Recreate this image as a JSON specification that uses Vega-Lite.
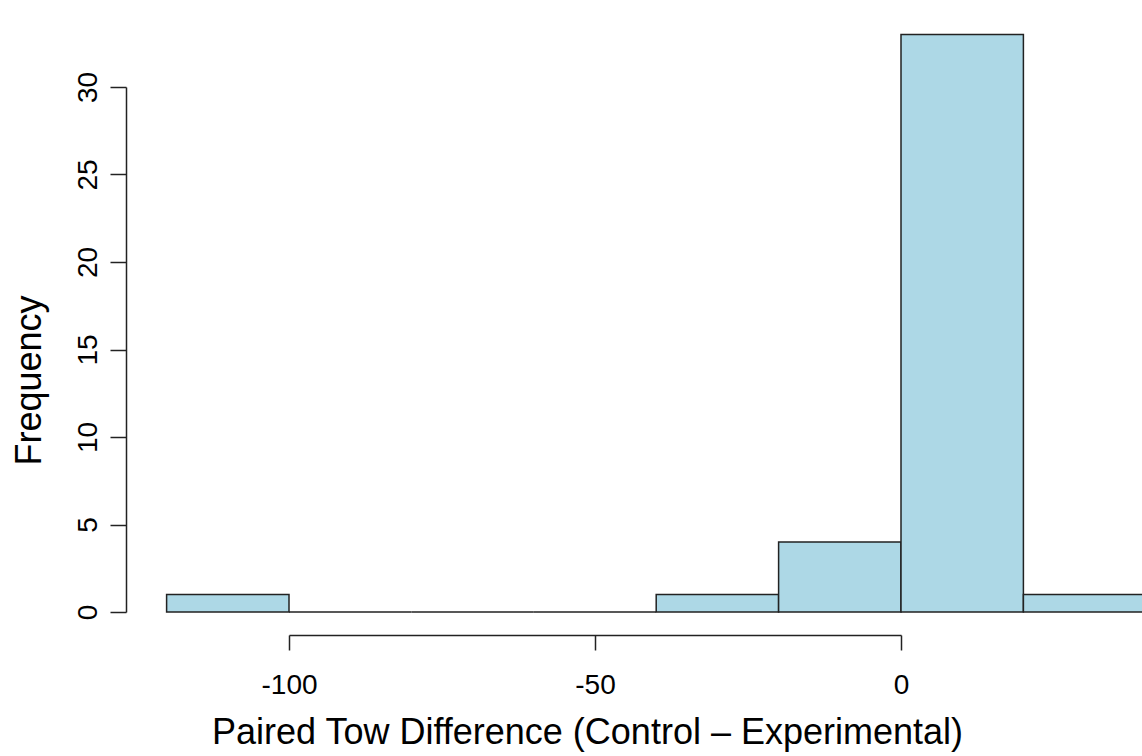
{
  "$schema": "https://vega.github.io/schema/vega-lite/v6.json",
  "autosize": {"type": "none"},
  "width": 612,
  "height": 525,
  "padding": {"left": 289, "top": 87, "right": 241, "bottom": 144},
  "background": "white",
  "config": {
    "view": {"stroke": null},
    "font": "Liberation Sans",
    "axis": {
      "grid": false,
      "domainColor": "#222222",
      "domainWidth": 1.5,
      "tickColor": "#222222",
      "tickWidth": 1.5,
      "tickSize": 15,
      "labelFont": "Liberation Sans",
      "labelFontSize": 28,
      "labelColor": "#000000",
      "titleFont": "Liberation Sans",
      "titleFontSize": 36,
      "titleFontWeight": "normal",
      "titleColor": "#000000"
    }
  },
  "data": {
    "values": [
      {"bin_start": -120, "bin_end": -100, "count": 1},
      {"bin_start": -100, "bin_end": -80, "count": 0},
      {"bin_start": -80, "bin_end": -60, "count": 0},
      {"bin_start": -60, "bin_end": -40, "count": 0},
      {"bin_start": -40, "bin_end": -20, "count": 1},
      {"bin_start": -20, "bin_end": 0, "count": 4},
      {"bin_start": 0, "bin_end": 20, "count": 33},
      {"bin_start": 20, "bin_end": 40, "count": 1}
    ]
  },
  "mark": {"type": "rect", "fill": "#ADD8E6", "stroke": "#222222", "strokeWidth": 1.5, "clip": false},
  "encoding": {
    "x": {
      "field": "bin_start",
      "type": "quantitative",
      "scale": {"domain": [-100, 0], "nice": false, "zero": false},
      "axis": {
        "values": [-100, -50, 0],
        "labelExpr": "toString(datum.value)",
        "offset": 23,
        "labelPadding": 43,
        "labelBaseline": "alphabetic",
        "labelFlush": false,
        "title": "Paired Tow Difference (Control – Experimental)",
        "titleX": 298,
        "titleY": 108,
        "titleBaseline": "alphabetic",
        "titleAnchor": null
      }
    },
    "x2": {"field": "bin_end"},
    "y": {
      "field": "count",
      "type": "quantitative",
      "scale": {"domain": [0, 30], "nice": false},
      "axis": {
        "values": [0, 5, 10, 15, 20, 25, 30],
        "offset": 163,
        "tickSize": 16,
        "labelAngle": -90,
        "labelAlign": "center",
        "labelBaseline": "alphabetic",
        "labelPadding": 14,
        "labelFlush": false,
        "title": "Frequency",
        "titleAngle": -90,
        "titleAlign": "center",
        "titleBaseline": "alphabetic",
        "titleX": -86,
        "titleY": 293
      }
    },
    "y2": {"datum": 0}
  }
}
